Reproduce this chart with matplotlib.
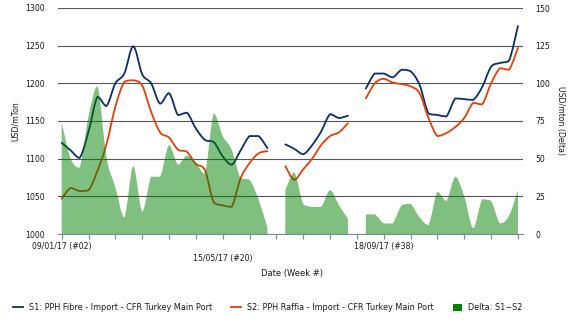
import numpy as np
import matplotlib
matplotlib.use("Agg")
import matplotlib.pyplot as plt
from matplotlib.path import Path
from matplotlib.patches import PathPatch, Patch
from matplotlib.lines import Line2D

# ---------------- data (weekly, week #02 2017 .. week #53) ----------------
weeks = list(range(52))
s1 = [1121, 1111, 1101, 1136, 1182, 1170, 1200, 1213, 1249, 1212,
      1200, 1173, 1187, 1158, 1161, 1140, 1125, 1122, 1103, 1092,
      1111, 1130, 1130, 1114, None, 1119, 1113, 1106, 1118, 1136,
      1159, 1154, 1157, None, 1193, 1213, 1213, 1208, 1218, 1216,
      1198, 1160, 1158, 1156, 1180, 1179, 1178, 1195, 1222, 1227,
      1230, 1276]
s2 = [1047, 1061, 1057, 1058, 1084, 1119, 1169, 1202, 1204, 1197,
      1162, 1135, 1128, 1112, 1109, 1093, 1085, 1042, 1038, 1036,
      1074, 1094, 1107, 1110, None, 1090, 1072, 1086, 1100, 1118,
      1130, 1135, 1147, None, 1180, 1200, 1206, 1201, 1199, 1196,
      1187, 1154, 1130, 1134, 1142, 1154, 1174, 1172, 1200, 1220,
      1218, 1247]
tick_weeks = list(range(0, 52, 3))
tick_labels = {0: "09/01/17 (#02)", 18: "15/05/17 (#20)", 36: "18/09/17 (#38)"}
s1_name = "S1: PPH Fibre - Import - CFR Turkey Main Port"
s2_name = "S2: PPH Raffia - Import - CFR Turkey Main Port"
delta_name = "Delta: S1\u2212S2"

C1 = "#0b2e63"
C2 = "#e0400a"
CG = "#008000"


def segments(xs, ys):
    seg = []
    for x, y in zip(xs, ys):
        if y is None:
            if seg:
                yield seg
            seg = []
        else:
            seg.append((x, y))
    if seg:
        yield seg


def bezier_verts(pts):
    p = np.array(pts, dtype=float)
    n = len(p)
    verts = [tuple(p[0])]
    codes = [Path.MOVETO]
    for i in range(n - 1):
        p0 = p[i - 1] if i > 0 else p[i]
        p1, p2 = p[i], p[i + 1]
        p3 = p[i + 2] if i + 2 < n else p[i + 1]
        c1 = p1 + (p2 - p0) / 6.0
        c2 = p2 - (p3 - p1) / 6.0
        lo, hi = min(p1[1], p2[1]), max(p1[1], p2[1])
        c1[1] = min(max(c1[1], lo), hi)
        c2[1] = min(max(c2[1], lo), hi)
        verts += [tuple(c1), tuple(c2), tuple(p2)]
        codes += [Path.CURVE4] * 3
    return verts, codes


fig = plt.figure(figsize=(5.76, 3.24), dpi=100)
ax = fig.add_axes([58.3 / 576, 1 - 234 / 324, 465 / 576, 226 / 324])
ax2 = ax.twinx()

for ys, col in ((s1, C1), (s2, C2)):
    for seg in segments(weeks, ys):
        v, c = bezier_verts(seg)
        ax.add_patch(PathPatch(Path(v, c), facecolor="none", edgecolor=col,
                               lw=1.3, zorder=3, capstyle="round"))

delta = [None if (a is None or b is None) else a - b for a, b in zip(s1, s2)]
for seg in segments(weeks, delta):
    v, c = bezier_verts(seg)
    v = v + [(seg[-1][0], 0), (seg[0][0], 0), (seg[0][0], 0)]
    c = c + [Path.LINETO, Path.LINETO, Path.CLOSEPOLY]
    ax2.add_patch(PathPatch(Path(v, c), facecolor=CG, edgecolor="none",
                            alpha=0.5, zorder=2))

ax.set_xlim(-0.38, 51.6)
ax.set_ylim(1000, 1300)
ax2.set_ylim(0, 150)

ax.set_yticks(range(1000, 1301, 50))
ax2.set_yticks(range(0, 151, 25))
ax.grid(axis="y", color="#555555", lw=0.8)
ax.set_axisbelow(True)

for a in (ax, ax2):
    for s in ("top", "left", "right"):
        a.spines[s].set_visible(False)
    a.spines["bottom"].set_color("#7d8ca3")
ax2.spines["bottom"].set_visible(False)

ax.tick_params(axis="y", length=0, labelsize=5.6, pad=9.5, labelcolor="#1a1a1a")
ax2.tick_params(axis="y", length=0, labelsize=5.6, pad=8.5, labelcolor="#1a1a1a")

ax.set_xticks(tick_weeks)
labs = []
for w in tick_weeks:
    t = tick_labels.get(w, "")
    if w == 18:
        t = "\n" + t
    labs.append(t)
ax.set_xticklabels(labs)
ax.tick_params(axis="x", length=3.5, width=0.9, color="#7d8ca3", labelsize=5.6,
               pad=2.3, labelcolor="#1a1a1a")
for t in ax.get_xticklabels():
    t.set_linespacing(1.35)

ax.set_xlabel("Date (Week #)", fontsize=6, color="#1a1a1a")
ax.xaxis.set_label_coords(0.5026, -0.1726)
ax.xaxis.label.set_va("center")

ax.set_ylabel("USD/mTon", fontsize=5.6, color="#1a1a1a")
ax.yaxis.set_label_coords(-0.093, 0.5)
ax.yaxis.label.set_va("center")
ax2.set_ylabel("USD/mton (Delta)", fontsize=5.6, color="#1a1a1a", rotation=270)
ax2.yaxis.set_label_coords(1.079, 0.5)
ax2.yaxis.label.set_va("center")

handles = [Line2D([], [], color=C1, lw=1.3), Line2D([], [], color=C2, lw=1.3),
           Patch(facecolor=CG, edgecolor="none")]
fig.legend(handles, [s1_name, s2_name, delta_name], loc="center",
           bbox_to_anchor=(268 / 576, 1 - 308 / 324), ncol=3, frameon=False,
           fontsize=5.9, handlelength=1.15, handleheight=0.85, handletextpad=0.7,
           columnspacing=2.4, labelcolor="#1a1a1a")

fig.savefig("out.png", dpi=100)
